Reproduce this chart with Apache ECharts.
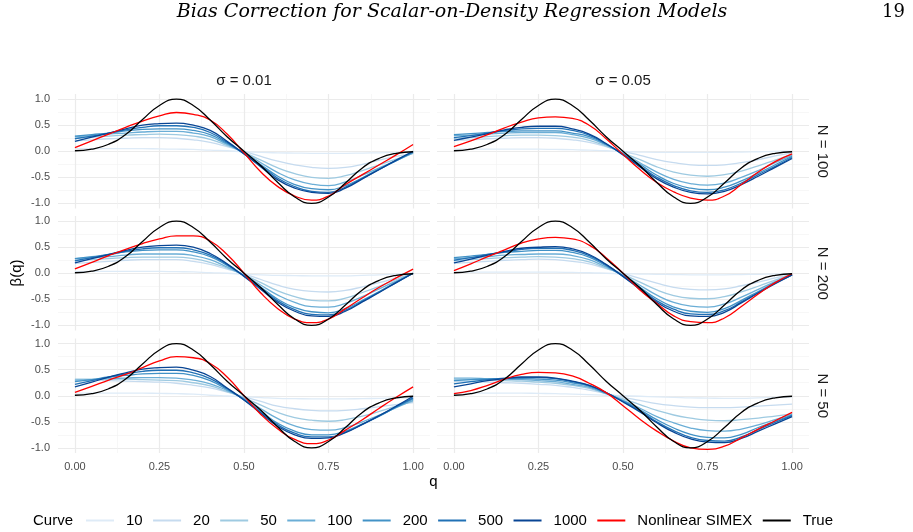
<!DOCTYPE html>
<html>
<head>
<meta charset="utf-8">
<script src="https://cdn.jsdelivr.net/npm/echarts@6/dist/echarts.min.js"></script>
<style>
    html, body { margin: 0; padding: 0; background: #fff; }
    #chart { width: 913px; height: 532px; }
</style>
</head>
<body>
<div id="chart"></div>
<script>
// q grid shared by every curve
var qGrid = [0, 0.05, 0.1, 0.15, 0.2, 0.25, 0.3, 0.35, 0.4, 0.45, 0.5, 0.55, 0.6, 0.65, 0.7, 0.75, 0.8, 0.85, 0.9, 0.95, 1];

var curveNames = ['10', '20', '50', '100', '200', '500', '1000'];
var curveColors = ['#deebf7', '#c6dbef', '#9ecae1', '#6baed6', '#4292c6', '#2171b5', '#084594'];
var sigmaLabels = ['\u03c3 = 0.01', '\u03c3 = 0.05'];
var nLabels = ['N = 100', 'N = 200', 'N = 50'];
var xMajor = [0, 0.25, 0.5, 0.75, 1];
var xMinor = [0.125, 0.375, 0.625, 0.875];
var yMajor = [-1, -0.5, 0, 0.5, 1];
var yMinor = [-0.75, -0.25, 0.25, 0.75];

// true beta (same in every panel)
var trueBeta = [0.01, 0.04, 0.135, 0.32, 0.61, 0.88, 1.0, 0.88, 0.6, 0.28, 0.0, -0.28, -0.6, -0.88, -1.0, -0.88, -0.61, -0.32, -0.135, -0.04, -0.01];

// nonlinear SIMEX
var simexS001N100 = [0.07, 0.2, 0.33, 0.46, 0.58, 0.68, 0.745, 0.71, 0.6, 0.33, -0.03, -0.4, -0.68, -0.86, -0.94, -0.86, -0.64, -0.45, -0.26, -0.07, 0.13];
var simexS005N100 = [0.09, 0.2, 0.32, 0.45, 0.56, 0.64, 0.66, 0.63, 0.5, 0.24, -0.06, -0.35, -0.6, -0.78, -0.9, -0.94, -0.86, -0.64, -0.4, -0.2, -0.05];
var simexS001N200 = [0.085, 0.21, 0.34, 0.46, 0.57, 0.66, 0.72, 0.72, 0.62, 0.36, 0.0, -0.38, -0.68, -0.88, -0.95, -0.88, -0.68, -0.47, -0.27, -0.09, 0.08];
var simexS005N200 = [0.05, 0.18, 0.32, 0.45, 0.58, 0.66, 0.69, 0.66, 0.54, 0.3, 0.0, -0.32, -0.58, -0.82, -0.93, -0.95, -0.86, -0.64, -0.4, -0.18, -0.01];
var simexS001N50 = [0.065, 0.18, 0.3, 0.41, 0.54, 0.67, 0.75, 0.73, 0.62, 0.36, 0.0, -0.36, -0.64, -0.84, -0.92, -0.85, -0.66, -0.46, -0.24, -0.03, 0.17];
var simexS005N50 = [0.04, 0.1, 0.2, 0.32, 0.41, 0.45, 0.44, 0.38, 0.24, 0.06, -0.19, -0.45, -0.68, -0.87, -1.0, -1.03, -0.97, -0.81, -0.64, -0.48, -0.32];

// naive curves, one row per curve (10, 20, 50, 100, 200, 500, 1000)
var naiveS001N100 = [
    [0.05, 0.05, 0.05, 0.05, 0.05, 0.045, 0.04, 0.035, 0.02, 0.01, -0.01, -0.02, -0.03, -0.035, -0.04, -0.04, -0.04, -0.035, -0.03, -0.025, -0.02],
    [0.2, 0.22, 0.24, 0.25, 0.26, 0.26, 0.25, 0.22, 0.17, 0.09, 0.0, -0.1, -0.19, -0.26, -0.31, -0.33, -0.31, -0.25, -0.17, -0.1, -0.04],
    [0.25, 0.27, 0.29, 0.31, 0.32, 0.33, 0.32, 0.29, 0.23, 0.11, -0.02, -0.17, -0.32, -0.43, -0.5, -0.52, -0.47, -0.37, -0.26, -0.15, -0.04],
    [0.28, 0.3, 0.33, 0.35, 0.37, 0.38, 0.38, 0.35, 0.28, 0.13, -0.03, -0.22, -0.41, -0.55, -0.63, -0.66, -0.59, -0.46, -0.32, -0.18, -0.03],
    [0.29, 0.32, 0.35, 0.39, 0.42, 0.43, 0.43, 0.4, 0.32, 0.15, -0.04, -0.26, -0.48, -0.64, -0.72, -0.74, -0.66, -0.51, -0.34, -0.18, -0.02],
    [0.24, 0.29, 0.35, 0.41, 0.46, 0.49, 0.49, 0.46, 0.36, 0.17, -0.05, -0.28, -0.52, -0.68, -0.77, -0.79, -0.69, -0.52, -0.35, -0.18, -0.01],
    [0.19, 0.27, 0.35, 0.43, 0.5, 0.53, 0.54, 0.5, 0.4, 0.19, -0.05, -0.3, -0.55, -0.71, -0.79, -0.81, -0.71, -0.53, -0.35, -0.17, 0.0]
];
var naiveS005N100 = [
    [0.04, 0.04, 0.04, 0.04, 0.04, 0.04, 0.035, 0.03, 0.02, 0.01, -0.005, -0.015, -0.02, -0.02, -0.02, -0.02, -0.02, -0.015, -0.01, -0.005, 0.0],
    [0.21, 0.22, 0.24, 0.25, 0.26, 0.26, 0.25, 0.22, 0.17, 0.09, 0.0, -0.08, -0.16, -0.22, -0.26, -0.27, -0.26, -0.22, -0.16, -0.09, -0.03],
    [0.25, 0.26, 0.28, 0.3, 0.31, 0.31, 0.3, 0.27, 0.21, 0.1, -0.03, -0.16, -0.3, -0.4, -0.46, -0.48, -0.45, -0.38, -0.28, -0.17, -0.06],
    [0.3, 0.31, 0.33, 0.35, 0.36, 0.36, 0.36, 0.32, 0.25, 0.12, -0.04, -0.22, -0.4, -0.54, -0.62, -0.65, -0.61, -0.5, -0.37, -0.22, -0.08],
    [0.32, 0.34, 0.36, 0.38, 0.39, 0.39, 0.39, 0.35, 0.28, 0.13, -0.05, -0.25, -0.46, -0.62, -0.71, -0.74, -0.69, -0.57, -0.42, -0.26, -0.1],
    [0.26, 0.3, 0.35, 0.4, 0.43, 0.44, 0.44, 0.4, 0.31, 0.14, -0.06, -0.28, -0.5, -0.66, -0.76, -0.79, -0.74, -0.61, -0.45, -0.29, -0.12],
    [0.21, 0.27, 0.34, 0.41, 0.46, 0.48, 0.48, 0.43, 0.33, 0.15, -0.07, -0.3, -0.53, -0.69, -0.79, -0.82, -0.77, -0.64, -0.48, -0.31, -0.14]
];
var naiveS001N200 = [
    [0.03, 0.035, 0.035, 0.035, 0.035, 0.035, 0.03, 0.025, 0.01, 0.0, -0.02, -0.03, -0.04, -0.045, -0.05, -0.05, -0.05, -0.04, -0.03, -0.015, 0.0],
    [0.19, 0.21, 0.23, 0.25, 0.26, 0.26, 0.26, 0.23, 0.17, 0.08, -0.01, -0.12, -0.23, -0.31, -0.35, -0.36, -0.33, -0.26, -0.18, -0.09, -0.01],
    [0.24, 0.26, 0.28, 0.3, 0.31, 0.31, 0.31, 0.28, 0.21, 0.1, -0.03, -0.18, -0.34, -0.45, -0.52, -0.53, -0.48, -0.37, -0.25, -0.12, 0.0],
    [0.28, 0.3, 0.32, 0.35, 0.37, 0.37, 0.37, 0.34, 0.26, 0.12, -0.04, -0.23, -0.42, -0.56, -0.64, -0.65, -0.58, -0.45, -0.3, -0.15, 0.0],
    [0.28, 0.32, 0.36, 0.41, 0.44, 0.45, 0.45, 0.41, 0.32, 0.15, -0.05, -0.27, -0.5, -0.66, -0.74, -0.76, -0.68, -0.52, -0.35, -0.17, 0.0],
    [0.24, 0.3, 0.36, 0.42, 0.47, 0.49, 0.49, 0.45, 0.35, 0.17, -0.05, -0.29, -0.53, -0.7, -0.79, -0.8, -0.71, -0.54, -0.36, -0.18, 0.0],
    [0.2, 0.28, 0.36, 0.44, 0.5, 0.53, 0.54, 0.5, 0.38, 0.18, -0.06, -0.31, -0.56, -0.73, -0.82, -0.83, -0.73, -0.55, -0.37, -0.18, 0.0]
];
var naiveS005N200 = [
    [0.02, 0.02, 0.02, 0.02, 0.02, 0.02, 0.02, 0.015, 0.01, 0.0, -0.01, -0.015, -0.02, -0.025, -0.03, -0.03, -0.03, -0.025, -0.02, -0.015, -0.01],
    [0.19, 0.21, 0.23, 0.25, 0.26, 0.27, 0.26, 0.23, 0.18, 0.09, 0.0, -0.1, -0.19, -0.27, -0.31, -0.32, -0.3, -0.24, -0.17, -0.09, -0.02],
    [0.24, 0.26, 0.28, 0.3, 0.31, 0.32, 0.31, 0.28, 0.22, 0.1, -0.02, -0.17, -0.32, -0.43, -0.48, -0.49, -0.45, -0.36, -0.25, -0.13, -0.02],
    [0.28, 0.3, 0.32, 0.35, 0.36, 0.37, 0.37, 0.34, 0.26, 0.12, -0.04, -0.23, -0.42, -0.56, -0.63, -0.65, -0.59, -0.46, -0.31, -0.16, -0.02],
    [0.3, 0.33, 0.36, 0.4, 0.42, 0.44, 0.44, 0.4, 0.31, 0.14, -0.05, -0.27, -0.49, -0.65, -0.73, -0.75, -0.68, -0.52, -0.35, -0.18, -0.03],
    [0.25, 0.3, 0.36, 0.41, 0.46, 0.48, 0.48, 0.44, 0.34, 0.16, -0.06, -0.29, -0.53, -0.69, -0.78, -0.79, -0.72, -0.55, -0.37, -0.19, -0.03],
    [0.2, 0.27, 0.35, 0.42, 0.48, 0.5, 0.51, 0.47, 0.36, 0.17, -0.06, -0.31, -0.56, -0.73, -0.82, -0.83, -0.75, -0.57, -0.38, -0.2, -0.03]
];
var naiveS001N50 = [
    [0.05, 0.05, 0.05, 0.05, 0.05, 0.045, 0.04, 0.03, 0.01, -0.005, -0.02, -0.035, -0.05, -0.055, -0.06, -0.06, -0.06, -0.055, -0.05, -0.045, -0.04],
    [0.3, 0.3, 0.29, 0.28, 0.27, 0.26, 0.24, 0.2, 0.15, 0.07, -0.02, -0.11, -0.2, -0.25, -0.28, -0.29, -0.28, -0.25, -0.21, -0.17, -0.13],
    [0.32, 0.32, 0.32, 0.32, 0.31, 0.3, 0.29, 0.25, 0.19, 0.08, -0.04, -0.18, -0.32, -0.42, -0.47, -0.49, -0.46, -0.39, -0.3, -0.2, -0.11],
    [0.3, 0.31, 0.33, 0.34, 0.35, 0.35, 0.34, 0.3, 0.23, 0.1, -0.05, -0.25, -0.44, -0.58, -0.65, -0.66, -0.61, -0.5, -0.37, -0.23, -0.09],
    [0.27, 0.31, 0.36, 0.39, 0.42, 0.43, 0.43, 0.39, 0.29, 0.12, -0.07, -0.3, -0.53, -0.68, -0.75, -0.75, -0.68, -0.54, -0.39, -0.22, -0.06],
    [0.22, 0.29, 0.36, 0.42, 0.47, 0.49, 0.49, 0.44, 0.33, 0.14, -0.08, -0.32, -0.56, -0.72, -0.79, -0.79, -0.7, -0.55, -0.39, -0.21, -0.04],
    [0.17, 0.26, 0.36, 0.44, 0.51, 0.54, 0.55, 0.49, 0.37, 0.15, -0.08, -0.34, -0.59, -0.75, -0.82, -0.81, -0.71, -0.55, -0.38, -0.2, -0.01]
];
var naiveS005N50 = [
    [0.05, 0.05, 0.05, 0.05, 0.05, 0.045, 0.04, 0.03, 0.02, 0.01, 0.0, -0.01, -0.02, -0.03, -0.04, -0.045, -0.05, -0.05, -0.04, -0.03, -0.02],
    [0.27, 0.27, 0.26, 0.25, 0.24, 0.22, 0.2, 0.16, 0.11, 0.04, -0.03, -0.09, -0.15, -0.19, -0.22, -0.23, -0.23, -0.22, -0.2, -0.18, -0.16],
    [0.31, 0.31, 0.3, 0.29, 0.28, 0.26, 0.24, 0.2, 0.14, 0.04, -0.06, -0.17, -0.28, -0.37, -0.43, -0.47, -0.48, -0.46, -0.43, -0.39, -0.35],
    [0.34, 0.34, 0.33, 0.32, 0.31, 0.29, 0.27, 0.22, 0.16, 0.04, -0.09, -0.24, -0.4, -0.52, -0.62, -0.67, -0.68, -0.64, -0.56, -0.46, -0.36],
    [0.29, 0.31, 0.32, 0.33, 0.33, 0.32, 0.3, 0.25, 0.18, 0.05, -0.1, -0.27, -0.46, -0.62, -0.74, -0.8, -0.81, -0.74, -0.61, -0.49, -0.37],
    [0.23, 0.27, 0.31, 0.34, 0.35, 0.35, 0.33, 0.27, 0.2, 0.06, -0.11, -0.29, -0.5, -0.67, -0.8, -0.86, -0.87, -0.79, -0.65, -0.51, -0.38],
    [0.17, 0.23, 0.29, 0.33, 0.36, 0.36, 0.34, 0.28, 0.2, 0.06, -0.12, -0.31, -0.52, -0.7, -0.83, -0.89, -0.9, -0.82, -0.68, -0.54, -0.4]
];

var FONT = '"Liberation Sans", Arial, Helvetica, sans-serif';

// panels row by row: N = 100, 200, 50; columns sigma = 0.01, 0.05
var panels = [
    {row: 0, col: 0, naive: naiveS001N100, simex: simexS001N100},
    {row: 0, col: 1, naive: naiveS005N100, simex: simexS005N100},
    {row: 1, col: 0, naive: naiveS001N200, simex: simexS001N200},
    {row: 1, col: 1, naive: naiveS005N200, simex: simexS005N200},
    {row: 2, col: 0, naive: naiveS001N50, simex: simexS001N50},
    {row: 2, col: 1, naive: naiveS005N50, simex: simexS005N50}
];

var colLeft = [58, 437];
var rowTop = [94, 216, 338.5];
var panelW = 372, panelH = 114.5;

function pairs(qs, ys) {
    return qs.map(function (q, i) { return [q, ys[i]]; });
}

var grids = [], xAxes = [], yAxes = [], series = [];
var majorLine = {show: true, lineStyle: {color: '#ebebeb', width: 1.2}};
var minorLine = {show: true, lineStyle: {color: '#f1f1f1', width: 0.6}};

panels.forEach(function (p, i) {
    grids.push({left: colLeft[p.col], top: rowTop[p.row], width: panelW, height: panelH});
    // major axes (carry labels and series)
    xAxes.push({
        gridIndex: i, type: 'value', min: -0.05, max: 1.05,
        axisLine: {show: false},
        axisTick: {show: false, customValues: xMajor},
        axisLabel: {
            show: p.row === 2, customValues: xMajor, margin: 8,
            color: '#4d4d4d', fontSize: 11, fontFamily: FONT,
            formatter: function (v) { return v.toFixed(2); }
        },
        splitLine: majorLine
    });
    yAxes.push({
        gridIndex: i, type: 'value', min: -1.1, max: 1.1,
        axisLine: {show: false},
        axisTick: {show: false, customValues: yMajor},
        axisLabel: {
            show: p.col === 0, customValues: yMajor, margin: 8,
            color: '#4d4d4d', fontSize: 11, fontFamily: FONT,
            formatter: function (v) { return v.toFixed(1); }
        },
        splitLine: majorLine
    });
    // minor grid axes
    xAxes.push({
        gridIndex: i, type: 'value', min: -0.05, max: 1.05, position: 'bottom',
        axisLine: {show: false},
        axisTick: {show: false, customValues: xMinor},
        axisLabel: {show: false},
        splitLine: minorLine
    });
    yAxes.push({
        gridIndex: i, type: 'value', min: -1.1, max: 1.1, position: 'left',
        axisLine: {show: false},
        axisTick: {show: false, customValues: yMinor},
        axisLabel: {show: false},
        splitLine: minorLine
    });

    var xi = 2 * i, yi = 2 * i;
    p.naive.forEach(function (ys, k) {
        series.push({
            name: curveNames[k], type: 'line', xAxisIndex: xi, yAxisIndex: yi,
            data: pairs(qGrid, ys), smooth: true, symbol: 'none',
            color: curveColors[k], lineStyle: {color: curveColors[k], width: 1.3}
        });
    });
    series.push({
        name: 'Nonlinear SIMEX', type: 'line', xAxisIndex: xi, yAxisIndex: yi,
        data: pairs(qGrid, p.simex), smooth: true, symbol: 'none',
        color: '#ff0000', lineStyle: {color: '#ff0000', width: 1.3}
    });
    series.push({
        name: 'True', type: 'line', xAxisIndex: xi, yAxisIndex: yi,
        data: pairs(qGrid, trueBeta), smooth: true, symbol: 'none',
        color: '#000000', lineStyle: {color: '#000000', width: 1.3}
    });
});

var graphics = [];
function addText(text, x, y, opts) {
    opts = opts || {};
    graphics.push({
        type: 'text', x: x, y: y, rotation: opts.rotation || 0, silent: true,
        style: {
            text: text, fill: opts.color || '#000',
            font: opts.font || ('15px ' + FONT),
            textAlign: opts.align || 'center', textVerticalAlign: 'middle'
        }
    });
}

// page header
addText('Bias Correction for Scalar-on-Density Regression Models', 452, 12,
    {font: 'italic 19px "DejaVu Serif", serif'});
addText('19', 905, 12, {align: 'right', font: '18px "DejaVu Serif", serif'});

// facet strips
sigmaLabels.forEach(function (s, c) {
    addText(s, colLeft[c] + panelW / 2, 81, {color: '#1a1a1a'});
});
nLabels.forEach(function (s, r) {
    addText(s, 822, rowTop[r] + panelH / 2, {color: '#1a1a1a', rotation: -Math.PI / 2});
});

// axis titles and legend title
addText('\u03b2(q)', 17, 273, {rotation: Math.PI / 2});
addText('q', 433.5, 482);
addText('Curve', 33, 521, {align: 'left'});

var option = {
    animation: false,
    backgroundColor: '#fff',
    grid: grids,
    xAxis: xAxes,
    yAxis: yAxes,
    legend: {
        left: 85, top: 513, padding: 0,
        itemWidth: 28, itemHeight: 14, itemGap: 9.4,
        itemStyle: {opacity: 0},
        data: curveNames.concat(['Nonlinear SIMEX', 'True']),
        textStyle: {fontSize: 15, color: '#000', fontFamily: FONT, padding: [0, 0, 0, 7]}
    },
    graphic: graphics,
    series: series
};

var chart = echarts.init(document.getElementById('chart'));
chart.setOption(option);
</script>
</body>
</html>
